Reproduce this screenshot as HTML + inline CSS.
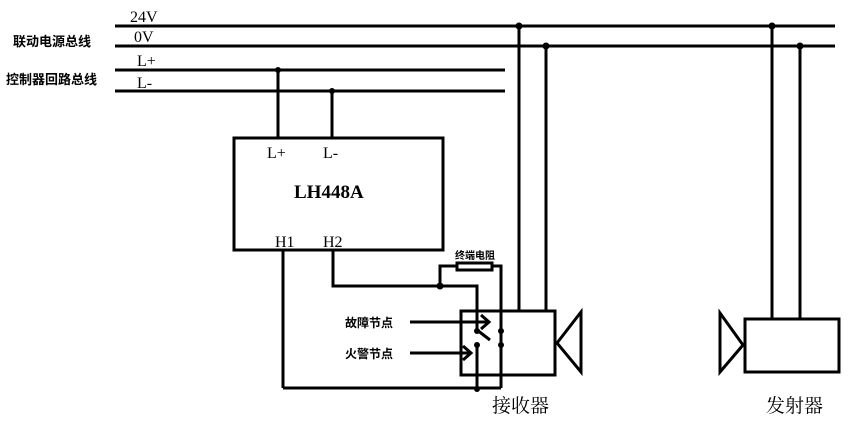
<!DOCTYPE html>
<html><head><meta charset="utf-8"><style>
html,body{margin:0;padding:0;background:#fff;}
svg{display:block;}
text{font-family:"Liberation Serif","Noto Serif CJK SC",serif;fill:#000;}
.c{font-family:"Liberation Sans","Noto Sans CJK SC",sans-serif;font-weight:bold;}
</style></head><body>
<svg width="849" height="432" viewBox="0 0 849 432" xmlns="http://www.w3.org/2000/svg">
<g stroke="#000" stroke-width="3" fill="none">
<line x1="115" y1="26" x2="835" y2="26"/>
<line x1="115" y1="46" x2="835" y2="46"/>
<line x1="115" y1="70" x2="505" y2="70"/>
<line x1="115" y1="91" x2="505" y2="91"/>
<line x1="278" y1="70" x2="278" y2="138"/>
<line x1="332" y1="91" x2="332" y2="138"/>
<rect x="234" y="138" width="209" height="112"/>
<line x1="283" y1="250" x2="283" y2="388"/>
<line x1="283" y1="388" x2="501" y2="388"/>
<polyline points="333,250 333,286 477,286 477,330"/>
<line x1="477" y1="330" x2="490" y2="340"/>
<line x1="477" y1="345" x2="477" y2="390"/>
<polyline points="440,286 440,266 457,266"/>
<rect x="457" y="263" width="35" height="7"/>
<polyline points="492,266 501,266 501,347"/>
<line x1="501" y1="345" x2="501" y2="388"/>
<rect x="461" y="311" width="94" height="64"/>
<polygon points="557,343 581,312 581,372"/>
<line x1="519" y1="26" x2="519" y2="311"/>
<line x1="546" y1="46" x2="546" y2="311"/>
<rect x="745" y="319" width="94" height="53"/>
<polygon points="743,345 720,313 720,372"/>
<line x1="772" y1="26" x2="772" y2="319"/>
<line x1="800" y1="46" x2="800" y2="319"/>
<line x1="410" y1="322" x2="488" y2="322"/>
<polyline points="481,315 489,322 481,329"/>
<line x1="410" y1="353" x2="470" y2="353"/>
<polyline points="463,346 471,353 463,360"/>
</g>
<g fill="#000">
<circle cx="278" cy="70" r="3"/><circle cx="332" cy="91" r="3"/>
<circle cx="519" cy="26" r="3.5"/><circle cx="546" cy="46" r="3.5"/>
<circle cx="772" cy="26" r="3.5"/><circle cx="800" cy="46" r="3.5"/>
<circle cx="440" cy="286" r="3.5"/>
<circle cx="477" cy="331" r="3"/><circle cx="477" cy="345" r="3"/>
<circle cx="501" cy="331" r="3"/><circle cx="501" cy="345" r="3"/>
<circle cx="477" cy="389" r="3"/>
</g>
<text x="130" y="22" font-size="16">24V</text>
<text x="134" y="42" font-size="16">0V</text>
<text x="137" y="66" font-size="16">L+</text>
<text x="137" y="88" font-size="16">L-</text>
<text class="c" x="13" y="46" font-size="13">联动电源总线</text>
<text class="c" x="6" y="84" font-size="13">控制器回路总线</text>
<text x="267" y="158" font-size="16">L+</text>
<text x="323" y="158" font-size="16">L-</text>
<text x="294" y="198" font-size="19" font-weight="bold">LH448A</text>
<text x="275" y="247" font-size="16">H1</text>
<text x="323" y="247" font-size="16">H2</text>
<text class="c" x="455" y="259" font-size="10">终端电阻</text>
<text class="c" x="345" y="327" font-size="12">故障节点</text>
<text class="c" x="345" y="358" font-size="12">火警节点</text>
<text x="492" y="412" font-size="19" style="font-family:'Noto Serif CJK SC',serif">接收器</text>
<text x="766" y="412" font-size="19" style="font-family:'Noto Serif CJK SC',serif">发射器</text>
</svg>
</body></html>
